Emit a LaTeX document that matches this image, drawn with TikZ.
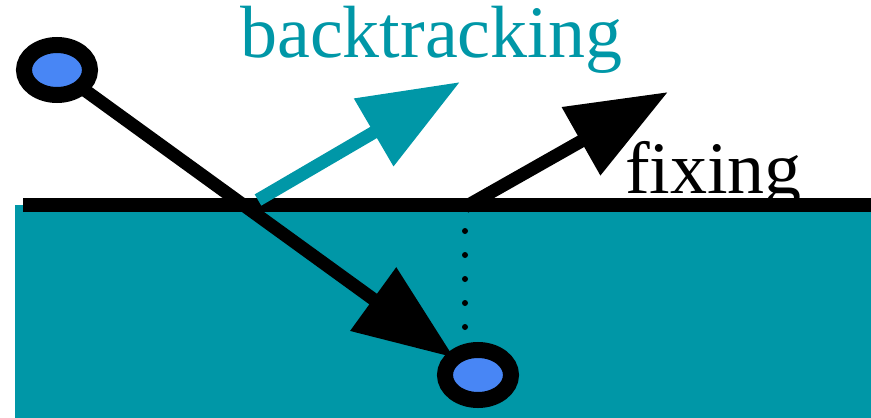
\documentclass[tikz,border=0pt]{standalone}
\usepackage{fontspec}
\setmainfont{Liberation Serif}
\usetikzlibrary{arrows.meta,shapes.geometric}
\definecolor{surfaceTeal}{RGB}{0,151,167}
\definecolor{stateBlue}{RGB}{72,134,245}
\tikzset{
  statenode/.style={
    ellipse, draw=black, line width=16pt, fill=stateBlue,
    minimum width=66pt, minimum height=50pt, inner sep=0pt, outer sep=0pt
  },
  moveArrow/.style={line width=13pt, -{Triangle[length=100pt,width=75pt]}},
  wordlabel/.style={anchor=base west, inner sep=0pt, font=\fontsize{74}{80}\selectfont}
}

\begin{document}
\begin{tikzpicture}[x=1pt, y=-1pt]
  \useasboundingbox (0,0) rectangle (871,418);
  % surface
  \fill[surfaceTeal] (15,205) rectangle (871,418);
  \draw[line width=14pt] (23,205) -- (871,205);
  % states
  \node[statenode] (start) at (57,70)  {};
  \node[statenode] (goal)  at (478,375) {};
  \coordinate (hit)     at (465,207);
  \coordinate (dotend)  at (465,330);
  \coordinate (bstart)  at (258,200);
  \coordinate (btip)    at (460,82);
  \coordinate (ftip)    at (668,92);
  \draw[line width=6pt, line cap=round, dash pattern=on 0pt off 24pt] (hit) -- (dotend);
  \draw[moveArrow] (start) -- (goal);
  \draw[moveArrow, draw=surfaceTeal, fill=surfaceTeal] (bstart) -- (btip);
  \draw[moveArrow] (hit) -- (ftip);
  % labels
  \node[wordlabel, text=surfaceTeal] (back) at (240,57)  {backtracking};
  \node[wordlabel]                   (fix)  at (625,193) {fixing};
\end{tikzpicture}
\end{document}
